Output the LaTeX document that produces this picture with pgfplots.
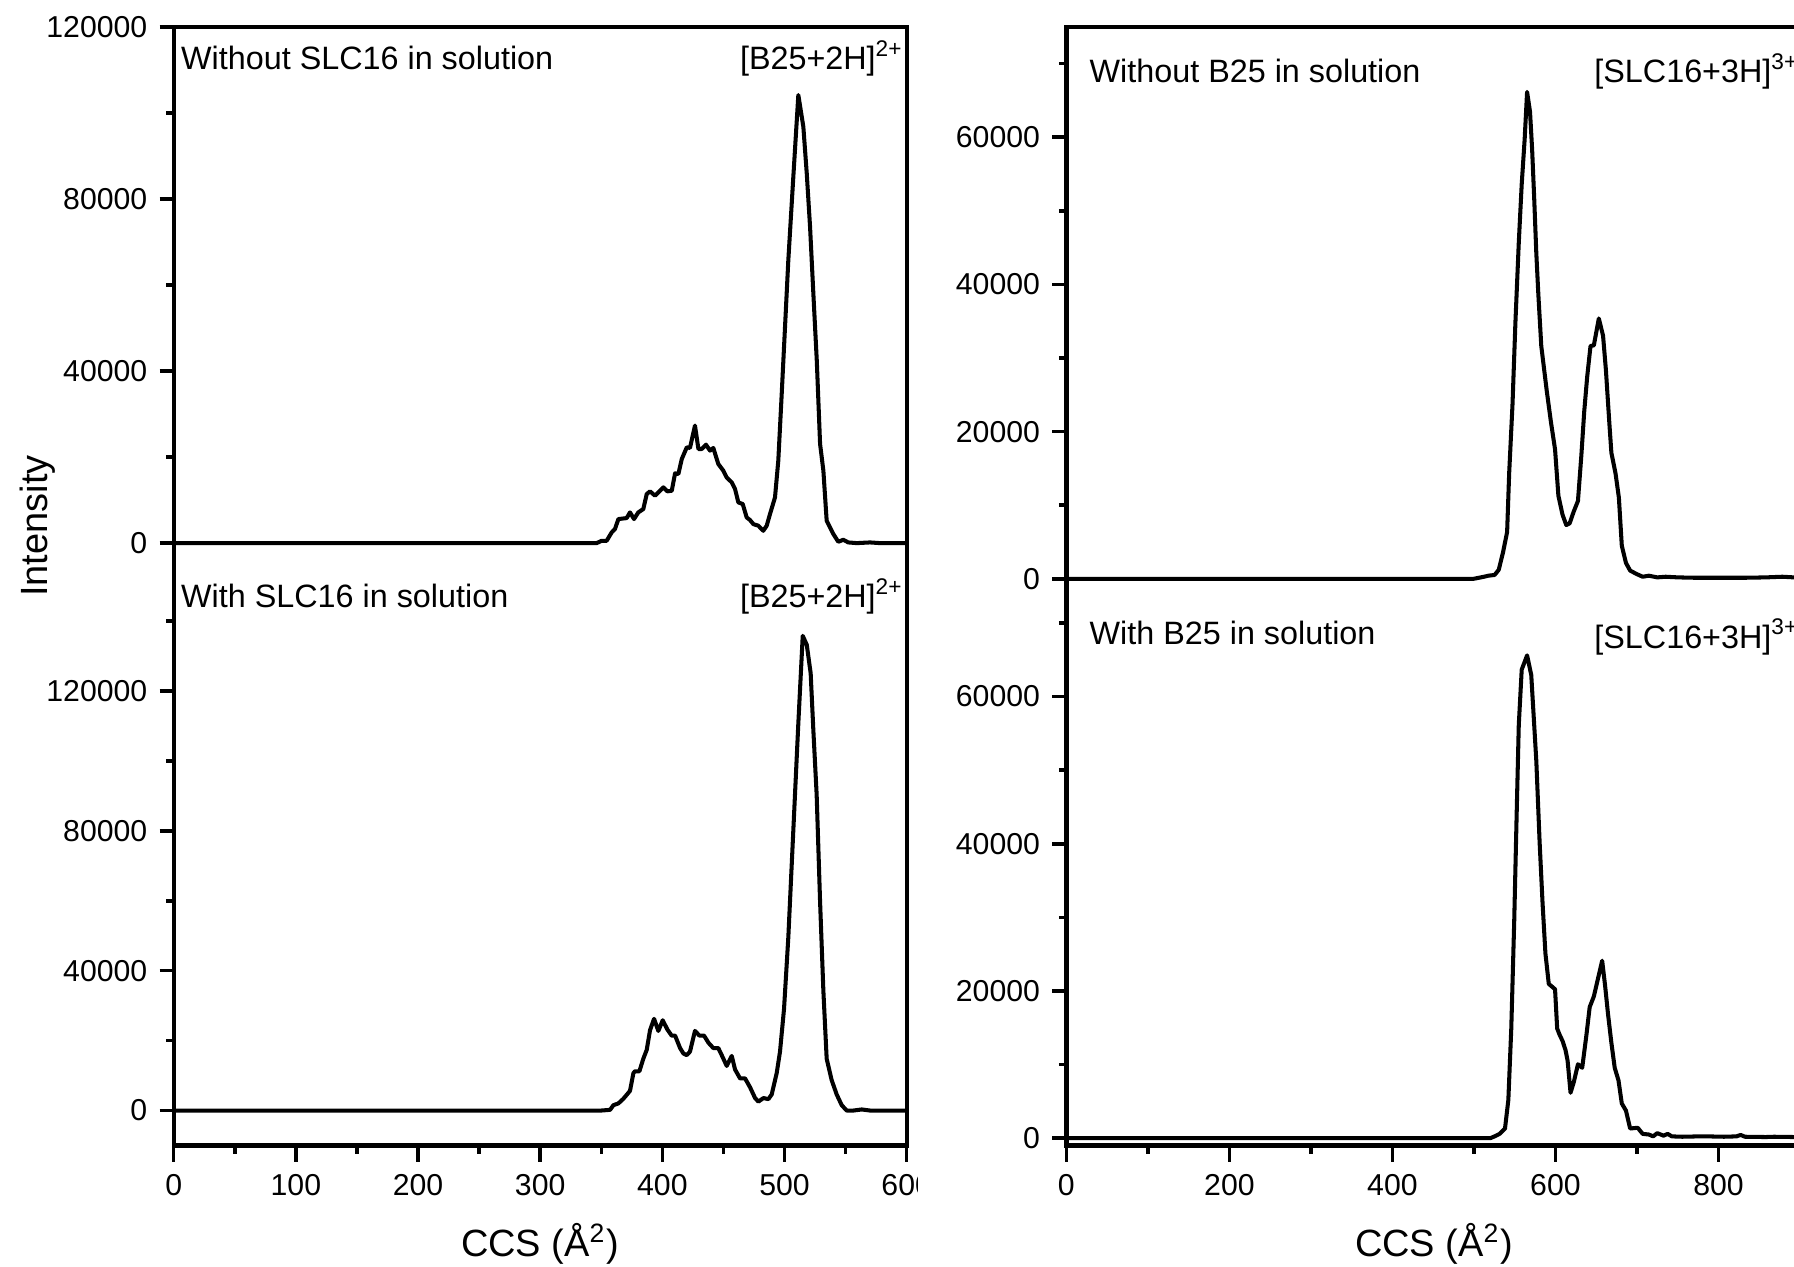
\documentclass[border=0pt]{standalone}
\usepackage{fontspec}
\setmainfont{Liberation Sans}
\usepackage{pgfplots}
\pgfplotsset{compat=1.18}

\pgfplotsset{
  base/.style={scale only axis, anchor=south west, enlargelimits=false,
    tick align=outside, tick style={black, line width=1.0pt},
    major tick length=0.14cm, minor tick length=0.075cm,
    /pgf/number format/assume math mode=true,
    ticklabel style={font=\fontsize{8.6}{10}\selectfont}},
  frame/.style={base, height=11.187cm, ymin=0, ymax=1, ytick=\empty,
    xtick pos=left, axis line style={line width=1.2pt},
    major tick length=0.16cm, minor tick length=0.08cm},
  layer/.style={base, height=5.5935cm, xtick=\empty, ytick pos=left,
    axis line style={draw=none}, scaled y ticks=false,
    yticklabel style={/pgf/number format/fixed, /pgf/number format/1000 sep={}}},
  curve/.style={black, line width=1.15pt, line join=round},
}
\newcommand{\note}{\fontsize{9.2}{11}\selectfont}
\newcommand{\lab}{\fontsize{10.8}{13}\selectfont}

\begin{document}
\begin{tikzpicture}

% ---- left panel: [B25+2H]2+
\begin{axis}[frame, at={(1.737cm,1.205cm)}, width=7.33cm,
  xmin=0, xmax=600, xtick={0,100,...,600}, minor xtick={50,150,...,550}]
\end{axis}

\begin{axis}[layer, at={(1.737cm,6.7985cm)}, width=7.33cm,
  xmin=0, xmax=600, ymin=-10000, ymax=120000,
  ytick={0,40000,80000,120000}, minor ytick={20000,60000,100000}]
\addplot[curve] coordinates {
(0,0) (332.6,0) (346.2,0) (350.3,540) (354.4,540) (358.5,2480) (361.2,3260)
(364.0,5590) (370.8,5820) (373.5,7140) (376.8,5590) (380.3,7140) (384.4,7920)
(387.2,11400) (389.9,12030) (394.0,11020) (398.1,12180) (400.8,12960) (404.1,12030)
(407.7,12180) (410.4,16220) (413.1,16060) (415.9,19560) (420.0,22270) (422.6,22120)
(426.7,27320) (429.5,21880) (432.2,21880) (435.7,22890) (439.0,21500) (441.7,22120)
(445.8,18390) (449.9,16840) (452.6,15290) (456.8,14120) (459.5,12570) (462.2,9470)
(465.8,9080) (469.0,5980) (471.8,5350) (474.5,4420) (478.6,4040) (482.6,2870)
(485.4,4040) (488.1,6750) (492.2,10630) (494.9,19170) (497.7,34690) (500.4,50210)
(503.1,65730) (507.2,85130) (511.3,104140) (515.4,96770) (518.2,85900) (520.9,73490)
(523.6,57970) (526.4,42450) (529.1,23050) (531.8,16840) (534.5,5200) (540.0,2100)
(544.0,310) (548.1,780) (552.2,160) (559.1,0) (570,160) (578.2,0) (594.6,0) (600,0)
};
\end{axis}

\begin{axis}[layer, at={(1.737cm,1.205cm)}, width=7.33cm,
  xmin=0, xmax=600, ymin=-10000, ymax=150000,
  ytick={0,40000,80000,120000}, minor ytick={20000,60000,100000,140000}]
\addplot[curve] coordinates {
(0,0) (350,0) (357.2,200) (359.9,1530) (364.0,2040) (368.1,3370) (373.5,5620)
(376.3,10720) (377.6,11230) (381.2,11230) (384.4,14810) (387.2,17360) (389.9,22970)
(393.2,26240) (396.7,22770) (400.3,25830) (404.1,23180) (407.6,21440) (410.4,21440)
(414.5,17870) (417.2,16340) (419.9,15830) (422.6,16850) (426.7,22770) (430.3,21440)
(434.1,21440) (437.7,19400) (441.7,17870) (445.8,17870) (448.6,15830) (452.7,12760)
(456.8,15620) (459.5,11740) (463.6,9190) (467.7,9190) (471.8,6640) (475.9,3570)
(478.6,2550) (482.7,3570) (486.8,3270) (489.5,4600) (493.6,10720) (496.3,16850)
(499.6,29100) (503.1,49520) (507.2,80150) (511.3,110780) (514.9,135790) (518.2,133240)
(521.4,125070) (523.6,108740) (526.3,90360) (529.1,59730) (531.8,34200) (534.5,14810)
(538.6,8680) (542.7,4600) (546.8,1530) (550.9,0) (556.4,0) (563.2,310) (570.0,0)
(578.2,0) (589.1,0) (600,0)
};
\end{axis}

% the right panel covers the end of the last left tick label
\fill[white] (9.18,0.50) rectangle (10.30,1.08);

% ---- right panel: [SLC16+3H]3+
\begin{axis}[frame, at={(10.664cm,1.205cm)}, width=7.336cm,
  xmin=0, xmax=900, xtick={0,200,...,800}, minor xtick={100,300,...,900}]
\end{axis}

\begin{axis}[layer, at={(10.664cm,6.7985cm)}, width=7.336cm,
  xmin=0, xmax=900, ymin=-1000, ymax=75000,
  ytick={0,20000,40000,60000}, minor ytick={10000,30000,50000,70000}]
\addplot[curve] coordinates {
(0,0) (499.7,0) (512.5,280) (517.6,420) (525.3,520) (530.4,1220) (535.6,3560)
(540.7,6360) (543.2,14320) (547.3,23680) (550.9,34900) (555.0,45670) (558.6,53620)
(562.2,59700) (565.2,66160) (568.8,63450) (571.4,58300) (573.9,51750) (576.5,44260)
(579.0,38650) (582.6,31630) (589.3,25550) (594.4,21340) (599.5,17590) (603.6,11280)
(608.7,8700) (613.3,7300) (617.4,7530) (622.5,9170) (627.6,10580) (631.7,16660)
(635.3,22740) (638.9,27420) (643.0,31630) (647.1,31720) (653.2,35370) (658.4,33030)
(661.9,28360) (666.0,21340) (668.6,17130) (673.7,14320) (677.8,11040) (681.4,4490)
(686.5,2150) (691.6,1120) (699.3,660) (707.0,280) (714.7,420) (724.9,190) (735.1,280)
(750.5,190) (770.9,140) (806.8,140) (832.4,140) (857.9,190) (878.4,280) (892.8,190)
(900,150)
};
\end{axis}

\begin{axis}[layer, at={(10.664cm,1.205cm)}, width=7.336cm,
  xmin=0, xmax=900, ymin=-1000, ymax=75000,
  ytick={0,20000,40000,60000}, minor ytick={10000,30000,50000,70000}]
\addplot[curve] coordinates {
(0,0) (520.2,0) (525.3,240) (531.4,580) (538.1,1310) (542.2,5190) (545.8,14900)
(549.4,29450) (552.4,44010) (555.0,56140) (558.6,63660) (565.2,65600) (570.3,62930)
(576.5,51290) (580.6,40130) (584.2,31880) (587.7,25090) (591.8,20960) (596.9,20480)
(599.5,20230) (602.1,14900) (604.6,14170) (608.7,13200) (612.3,11990) (614.9,10530)
(618.5,6160) (622.5,7620) (627.6,10040) (632.8,9560) (637.9,13930) (642.0,17810)
(647.1,19260) (652.2,21690) (657.3,24110) (660.9,20720) (664.5,16840) (668.6,12960)
(672.7,9560) (677.3,7860) (681.4,4710) (686.5,3740) (691.6,1310) (700.9,1410)
(707.0,580) (714.7,490) (719.8,240) (724.9,680) (732.6,340) (737.7,580) (742.8,240)
(755.6,190) (776.1,240) (786.3,240) (806.8,190) (822.1,240) (827.2,440) (832.4,190)
(858.0,150) (868.2,190) (892.8,150) (900,150)
};
\end{axis}

% ---- texts
\node[font=\note, anchor=base west, inner sep=0] at (1.805,11.96) {Without SLC16 in solution};
\node[font=\note, anchor=base east, inner sep=0] at (9.04,11.96) {[B25+2H]\textsuperscript{2+}};
\node[font=\note, anchor=base west, inner sep=0] at (1.805,6.59) {With SLC16 in solution};
\node[font=\note, anchor=base east, inner sep=0] at (9.04,6.58) {[B25+2H]\textsuperscript{2+}};
\node[font=\note, anchor=base west, inner sep=0] at (10.89,11.83) {Without B25 in solution};
\node[font=\note, anchor=base west, inner sep=0] at (15.937,11.83) {[SLC16+3H]\textsuperscript{3+}};
\node[font=\note, anchor=base west, inner sep=0] at (10.89,6.22) {With B25 in solution};
\node[font=\note, anchor=base west, inner sep=0] at (15.937,6.18) {[SLC16+3H]\textsuperscript{3+}};

\node[font=\lab, anchor=base, inner sep=0] at (5.40,0.10) {CCS (Å\textsuperscript{2})};
\node[font=\lab, anchor=base, inner sep=0] at (14.34,0.10) {CCS (Å\textsuperscript{2})};
\node[font=\lab, anchor=base, rotate=90, inner sep=0] at (0.47,7.40) {Intensity};

\pgfresetboundingbox
\useasboundingbox (0,0) rectangle (17.94,12.66);
\end{tikzpicture}
\end{document}
